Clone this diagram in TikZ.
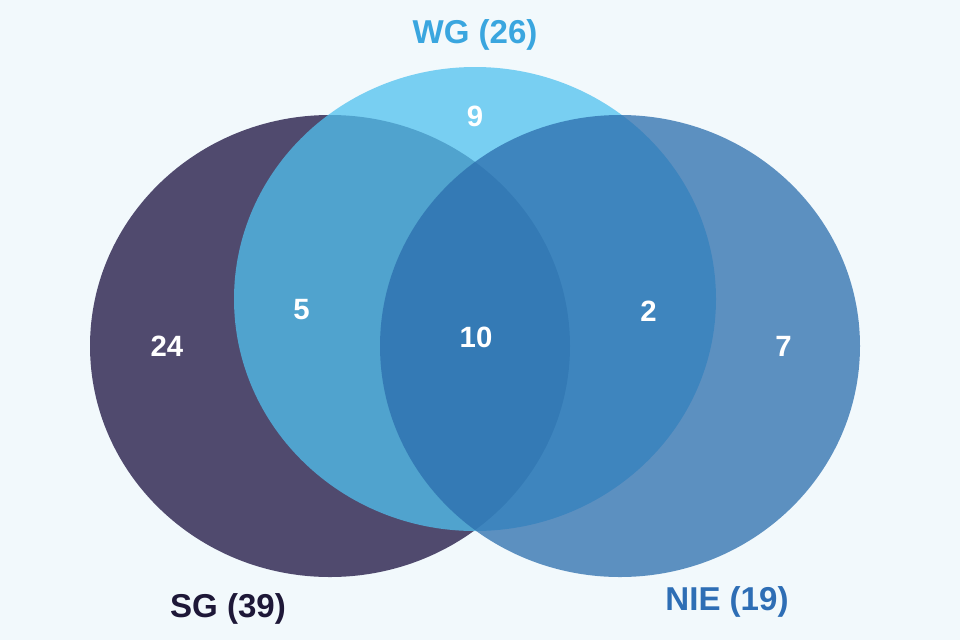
\documentclass[tikz,border=0pt]{standalone}
\usepackage{fontspec}
\setmainfont{Liberation Sans}
\definecolor{paper}{HTML}{F2F9FC}
\definecolor{sgpurple}{HTML}{1B103F}
\definecolor{wgblue}{HTML}{50C1EF}
\definecolor{nieblue}{HTML}{2B6DAD}
\definecolor{sgtext}{HTML}{1E1838}
\definecolor{wgtext}{HTML}{3AA6DF}
\definecolor{nietext}{HTML}{2E6EB5}
\tikzset{
    setfill/.style={fill opacity=0.75},
    count/.style={text=white, font=\bfseries\fontsize{22}{26}\selectfont},
    setname/.style={anchor=base, font=\bfseries\fontsize{24.8}{28}\selectfont}
}
\begin{document}
\begin{tikzpicture}[x=0.75pt, y=-0.75pt]
        % Background
        \fill[paper] (0, 0) rectangle (960, 640);
        \useasboundingbox (0, 0) rectangle (960, 640);

        % Sets SG, WG and NIE
        \fill[sgpurple, setfill] (330, 346) ellipse [x radius=240, y radius=231];
        \fill[wgblue, setfill] (475, 299) ellipse [x radius=241, y radius=232];
        \fill[nieblue, setfill] (620, 346) ellipse [x radius=240, y radius=231];

        % Set names
        \node[setname, text=wgtext] (wg) at (475, 43) {WG (26)};
        \node[setname, text=sgtext] (sg) at (228, 617) {SG (39)};
        \node[setname, text=nietext] (nie) at (727, 610.5) {NIE (19)};

        % Counts in each region
        \node[count] (sgonly) at (167, 346.5) {24};
        \node[count] (sgwg) at (301.5, 310) {5};
        \node[count] (wgonly) at (475, 116) {9};
        \node[count] (allthree) at (476, 337.5) {10};
        \node[count] (wgnie) at (648.5, 311) {2};
        \node[count] (nieonly) at (783.5, 346) {7};
\end{tikzpicture}
\end{document}
